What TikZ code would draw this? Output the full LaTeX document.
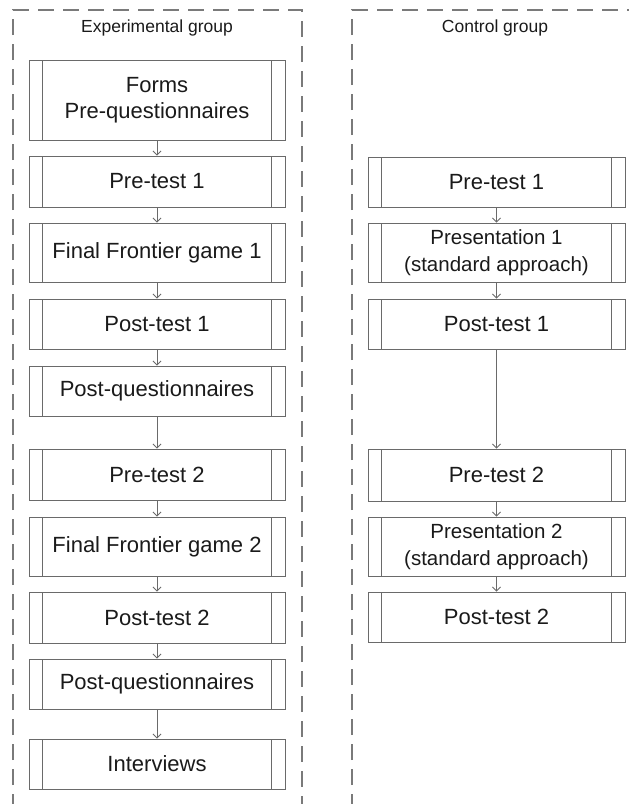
\documentclass[tikz,border=0pt]{standalone}
\usepackage{fontspec}
\setmainfont{Liberation Sans}
\usetikzlibrary{arrows.meta}
\definecolor{frame}{HTML}{7A7A7A}
\definecolor{boxline}{HTML}{6A6A6A}
\definecolor{arrowc}{HTML}{6A6A6A}
\definecolor{txt}{HTML}{1A1A1A}
\tikzset{
  procbox/.style={draw=boxline, line width=1pt, rectangle, minimum width=256pt,
    text=txt, align=center, inner sep=0pt,
    font=\fontsize{22}{26.5}\selectfont,
    path picture={
      \draw[boxline, line width=1pt]
        ([xshift=13.5pt]path picture bounding box.north west) --
        ([xshift=13.5pt]path picture bounding box.south west);
      \draw[boxline, line width=1pt]
        ([xshift=-13.5pt]path picture bounding box.north east) --
        ([xshift=-13.5pt]path picture bounding box.south east);
    }},
  smalltxt/.style={font=\fontsize{20.5}{27}\selectfont},
  grpframe/.style={draw=frame, line width=2pt, dash pattern=on 16pt off 9pt},
  grptitle/.style={text=txt, font=\fontsize{17.5}{21}\selectfont, inner sep=0pt},
  flow/.style={draw=arrowc, line width=0.8pt, -{Straight Barb[length=4pt,width=8pt]}}
}
\begin{document}
\begin{tikzpicture}[x=1pt, y=-1pt]
\useasboundingbox (0,0) rectangle (629,804);
\begin{scope}
\clip (0,0) rectangle (629,804);
\draw[grpframe] (13,810) -- (13,10) -- (302,10) -- (302,810);
\draw[grpframe] (352,810) -- (352,10) -- (640,10);
\end{scope}

\node[grptitle] (tE) at (157,28) {Experimental group};
\node[grptitle] (tC) at (495,28) {Control group};

% Experimental group
\node[procbox, minimum height=80pt] (e1) at (157,100) {Forms\\Pre-questionnaires};
\node[procbox, minimum height=51pt] (e2) at (157,181.5) {Pre-test 1};
\node[procbox, minimum height=59pt] (e3) at (157,252.5) {Final Frontier game 1};
\node[procbox, minimum height=50pt] (e4) at (157,324) {Post-test 1};
\node[procbox, minimum height=50pt] (e5) at (157,391) {Post-questionnaires};
\node[procbox, minimum height=51pt] (e6) at (157,474.5) {Pre-test 2};
\node[procbox, minimum height=59pt] (e7) at (157,546.5) {Final Frontier game 2};
\node[procbox, minimum height=51pt] (e8) at (157,617.5) {Post-test 2};
\node[procbox, minimum height=50pt] (e9) at (157,684) {Post-questionnaires};
\node[procbox, minimum height=50pt] (e10) at (157,764) {Interviews};

% Control group
\node[procbox, minimum width=257pt, minimum height=50pt] (c1) at (496.5,182) {Pre-test 1};
\node[procbox, smalltxt, minimum width=257pt, minimum height=59pt] (c2) at (496.5,252.5) {Presentation 1\\(standard approach)};
\node[procbox, minimum width=257pt, minimum height=50pt] (c3) at (496.5,324) {Post-test 1};
\node[procbox, minimum width=257pt, minimum height=52pt] (c4) at (496.5,475) {Pre-test 2};
\node[procbox, smalltxt, minimum width=257pt, minimum height=59pt] (c5) at (496.5,546.5) {Presentation 2\\(standard approach)};
\node[procbox, minimum width=257pt, minimum height=50pt] (c6) at (496.5,617) {Post-test 2};

\foreach \a/\b in {e1/e2,e2/e3,e3/e4,e4/e5,e5/e6,e6/e7,e7/e8,e8/e9,e9/e10,c1/c2,c2/c3,c3/c4,c4/c5,c5/c6}
  \draw[flow] (\a.south) -- (\b.north);
\end{tikzpicture}
\end{document}
